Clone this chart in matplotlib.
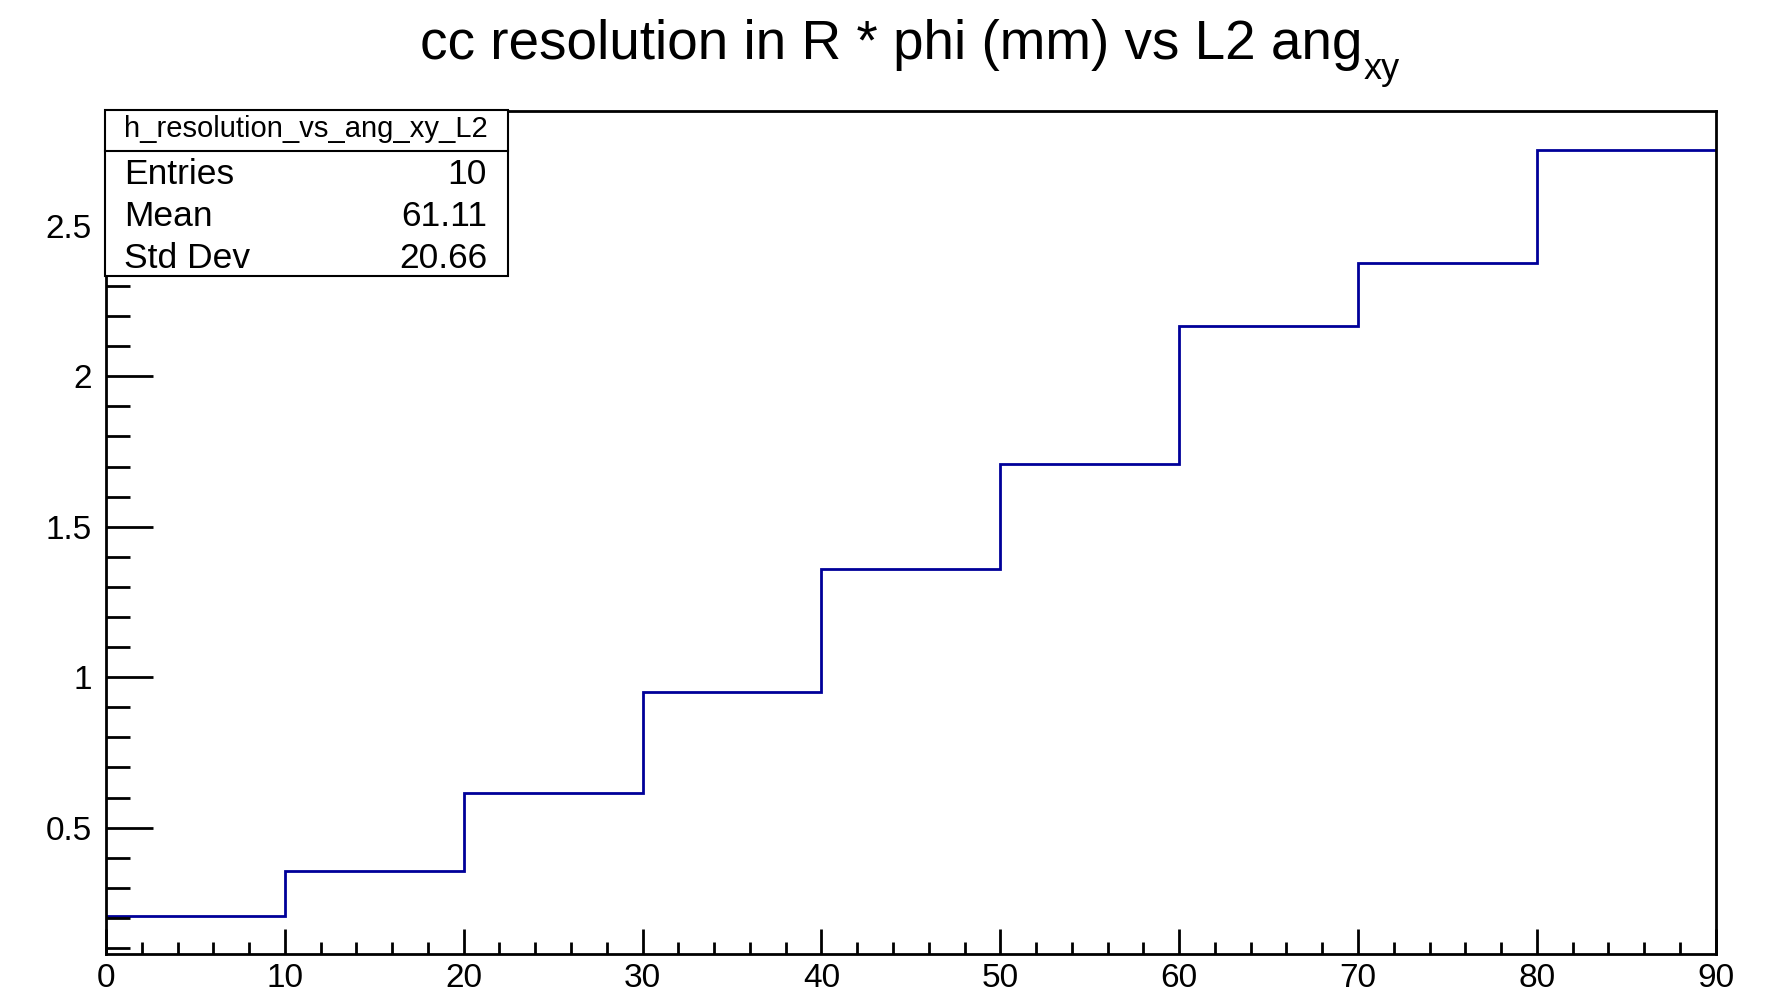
import matplotlib
matplotlib.use("Agg")
import matplotlib.pyplot as plt
from matplotlib.patches import Rectangle
from matplotlib.ticker import MultipleLocator, FuncFormatter

plt.rcParams['font.family'] = ['Liberation Sans', 'DejaVu Sans']

# data
bin_edges = [0, 10, 20, 30, 40, 50, 60, 70, 80, 90]
bin_values = [0.206, 0.356, 0.614, 0.952, 1.358, 1.709, 2.166, 2.378, 2.751]
title_main = "cc resolution in R * phi (mm) vs L2 ang"
title_sub = "xy"
stats_name = "h_resolution_vs_ang_xy_L2"
stats_labels = ["Entries", "Mean", "Std Dev"]
stats_values = ["10", "61.11", "20.66"]
y_range = (0.079, 2.8826)

W, H = 1767, 991
fig = plt.figure(figsize=(W / 100, H / 100), dpi=100)
ax = fig.add_axes([106 / W, 1 - 954.3 / H, (1715.7 - 106) / W, (954.3 - 110.7) / H])

col = '#000099'
ax.stairs(bin_values, bin_edges, color=col, linewidth=2.0, baseline=None)

ax.set_xlim(bin_edges[0], bin_edges[-1])
ax.set_ylim(*y_range)

for s in ax.spines.values():
    s.set_linewidth(2.0)
    s.set_color('black')

ax.xaxis.set_major_locator(MultipleLocator(10))
ax.xaxis.set_minor_locator(MultipleLocator(2))
ax.yaxis.set_major_locator(MultipleLocator(0.5))
ax.yaxis.set_minor_locator(MultipleLocator(0.1))

fmt = FuncFormatter(lambda v, pos: "%g" % v)
ax.xaxis.set_major_formatter(fmt)
ax.yaxis.set_major_formatter(fmt)

ax.tick_params(axis='x', which='major', direction='in', length=18, width=2, labelsize=24, pad=6)
ax.tick_params(axis='x', which='minor', direction='in', length=9, width=2)
ax.tick_params(axis='y', which='major', direction='in', length=34, width=2, labelsize=24, pad=10)
ax.tick_params(axis='y', which='minor', direction='in', length=17, width=2)

def fx(x):
    return x / W
def fy(y):
    return 1 - y / H

# Title
fig.text(fx(1362), fy(58.6), title_main, ha='right', va='baseline', fontsize=39.5)
fig.text(fx(1364), fy(79), title_sub, ha='left', va='baseline', fontsize=26)

# Stats box (figure pixel coordinates)
bx0, bx1, by0, by1, bmid = 105, 507.7, 110, 276, 150.7
rect = Rectangle((fx(bx0), fy(by1)), fx(bx1) - fx(bx0), fy(by0) - fy(by1),
                 transform=fig.transFigure, facecolor='white', edgecolor='black',
                 linewidth=1.5, zorder=5)
fig.add_artist(rect)
fig.add_artist(plt.Line2D([fx(bx0), fx(bx1)], [fy(bmid), fy(bmid)], transform=fig.transFigure,
                          color='black', linewidth=1.5, zorder=6))
fig.text(fx((bx0 + bx1) / 2), fy(129), stats_name, ha='center', va='center', fontsize=21, zorder=7)
row_y = [175, 216.5, 259]
for lab, val, y in zip(stats_labels, stats_values, row_y):
    fig.text(fx(124), fy(y), lab, ha='left', va='center', fontsize=25.5, zorder=7)
    fig.text(fx(487), fy(y), val, ha='right', va='center', fontsize=25.5, zorder=7)

fig.savefig("out.png", dpi=100, facecolor='white')
